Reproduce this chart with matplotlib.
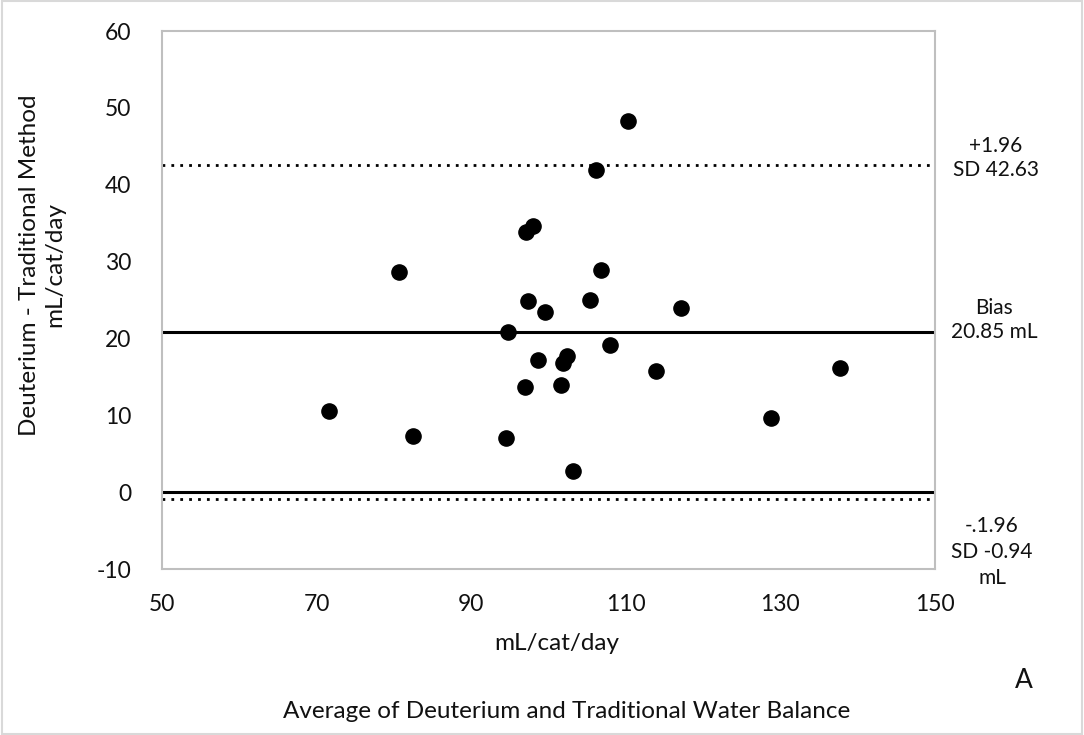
import matplotlib
matplotlib.use("Agg")
import matplotlib.pyplot as plt
from matplotlib.patches import Rectangle

plt.rcParams['font.family'] = ['Lato', 'DejaVu Sans']
plt.rcParams['axes.unicode_minus'] = False

# average of the two methods (mL/cat/day)
avg = [110.3, 106.1, 98.0, 97.1, 80.7, 106.8, 97.3, 105.4, 99.6, 117.1, 94.7, 108.0,
       98.7, 102.4, 101.9, 113.9, 97.0, 101.6, 71.6, 82.5, 94.5, 103.2, 128.8, 137.7]
# difference deuterium - traditional (mL/cat/day)
diff = [48.3, 41.9, 34.6, 33.8, 28.7, 28.9, 24.9, 25.0, 23.4, 24.0, 20.8, 19.2,
        17.2, 17.7, 16.8, 15.8, 13.7, 13.9, 10.6, 7.3, 7.0, 2.8, 9.7, 16.1]
bias = 20.85
upper = 42.63
lower = -0.94
xticks = [50, 70, 90, 110, 130, 150]
yticks = [-10, 0, 10, 20, 30, 40, 50, 60]

fig = plt.figure(figsize=(10.84, 7.35), dpi=100)
ax = fig.add_axes([162/1084, 1-569/735, (935-162)/1084, (569-31)/735])

ax.axhline(upper, color='black', linestyle=(0, (1, 2.2)), linewidth=2)
ax.axhline(lower, color='black', linestyle=(0, (1, 2.2)), linewidth=2)
ax.axhline(bias, color='black', linewidth=2.2)
ax.axhline(0, color='black', linewidth=2.2)
ax.scatter(avg, diff, s=120, color='black', zorder=3)

ax.set_xlim(50, 150)
ax.set_ylim(-10, 60)
ax.set_xticks(xticks)
ax.set_yticks(yticks)
ax.tick_params(length=0, labelsize=16.5, colors='#111111')
ax.tick_params(axis='x', pad=18)
ax.tick_params(axis='y', pad=22)
for s in ax.spines.values():
    s.set_color('#bfbfbf')
    s.set_linewidth(1.5)

fig.text(42/1084, 1-265/735, 'Deuterium - Traditional Method\nmL/cat/day', rotation=90,
         ha='center', va='center', fontsize=17.5, linespacing=1.25, color='#111111')
fig.text(557/1084, 1-643/735, 'mL/cat/day', ha='center', va='center', fontsize=17.5, color='#111111')
fig.text(1024/1084, 1-681/735, 'A', ha='center', va='center', fontsize=19, color='#111111')
fig.text(567/1084, 1-712/735, 'Average of Deuterium and Traditional Water Balance',
         ha='center', va='center', fontsize=17.5, color='#111111')

fig.text(996/1084, 1-158/735, '+1.96\nSD 42.63', ha='center', va='center', fontsize=15,
         linespacing=1.2, color='#111111')
fig.text(994/1084, 1-320/735, 'Bias\n20.85 mL', ha='center', va='center', fontsize=15,
         linespacing=1.2, color='#111111')
fig.text(992/1084, 1-552/735, '-.1.96\nSD -0.94\nmL', ha='center', va='center', fontsize=15,
         linespacing=1.35, color='#111111')

fig.patches.append(Rectangle((0.002, 0.002), 0.996, 0.996, transform=fig.transFigure,
                             fill=False, edgecolor='#d9d9d9', linewidth=1.5))

fig.savefig('out.png', dpi=100)
